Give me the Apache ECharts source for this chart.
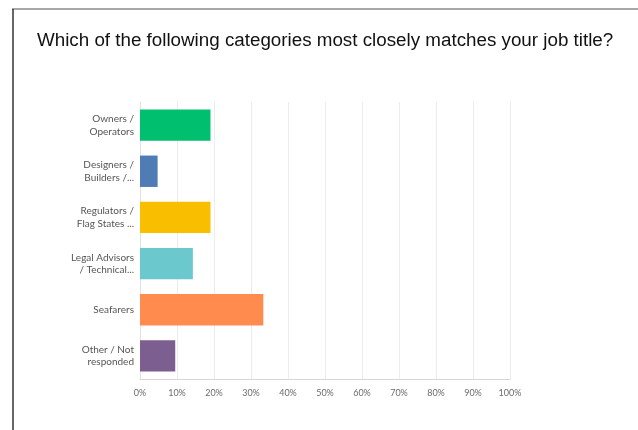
<!DOCTYPE html>
<html>
<head>
<meta charset="utf-8">
<script src="https://cdn.jsdelivr.net/npm/echarts@6/dist/echarts.min.js"></script>
<style>
  html, body { margin: 0; padding: 0; background: #fff; }
  #chart { width: 638px; height: 430px; }
</style>
</head>
<body>
<div id="chart"></div>
<script>
// Survey answers: share of respondents per job category (percent)
const categories = [
  'Owners /\nOperators',
  'Designers /\nBuilders /...',
  'Regulators /\nFlag States ...',
  'Legal Advisors\n/ Technical...',
  'Seafarers',
  'Other / Not\nresponded'
];
const shares = [19.05, 4.76, 19.05, 14.29, 33.33, 9.52];
const barColors = ['#00bf6f', '#507cb6', '#f9be00', '#6bc8cd', '#ff8b4f', '#7d5e90'];
const titleText = 'Which of the following categories most closely matches your job title?';

const chart = echarts.init(document.getElementById('chart'), null, { renderer: 'canvas' });

chart.setOption({
  animation: false,
  backgroundColor: '#fff',
  title: {
    text: titleText,
    left: 37,
    top: 31,
    padding: 0,
    textStyle: {
      fontFamily: 'Liberation Sans, Arial, sans-serif',
      fontSize: 18.8,
      fontWeight: 'normal',
      color: '#111'
    }
  },
  graphic: [
    { type: 'line', shape: { x1: 12, y1: 9, x2: 638, y2: 9 }, style: { stroke: '#a8a8a8', lineWidth: 2 } },
    { type: 'line', shape: { x1: 13, y1: 9, x2: 13, y2: 430 }, style: { stroke: '#333', lineWidth: 1.5 } }
  ],
  grid: { left: 140, right: 128, top: 102, bottom: 51, containLabel: false },
  xAxis: {
    type: 'value',
    min: 0,
    max: 100,
    interval: 10,
    axisLine: { show: true, lineStyle: { color: '#d6d6d6' } },
    axisTick: { show: false },
    splitLine: { show: true, lineStyle: { color: '#ececec' } },
    axisLabel: {
      formatter: '{value}%',
      color: '#6b6b6b',
      fontFamily: 'Lato, sans-serif',
      fontSize: 9,
      margin: 10
    }
  },
  yAxis: {
    type: 'category',
    data: categories,
    inverse: true,
    axisLine: { show: true, lineStyle: { color: '#e2e2e2' } },
    axisTick: { show: false },
    axisLabel: {
      color: '#555',
      fontFamily: 'Lato, sans-serif',
      fontSize: 10,
      lineHeight: 12.5,
      margin: 6,
      padding: [3, 0, 0, 0],
      align: 'right'
    }
  },
  series: [{
    type: 'bar',
    data: shares.map((v, i) => ({ value: v, itemStyle: { color: barColors[i] } })),
    barCategoryGap: '32%'
  }]
});
</script>
</body>
</html>
